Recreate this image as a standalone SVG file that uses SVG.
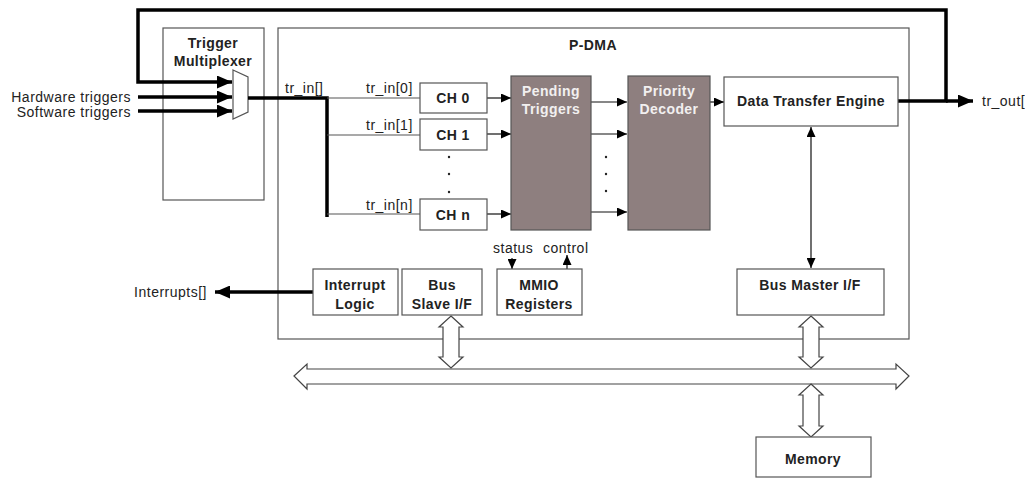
<svg xmlns="http://www.w3.org/2000/svg" width="1025" height="480" viewBox="0 0 1025 480">
<style>
.box{fill:#fff;stroke:#555;stroke-width:1.2}
.grey{fill:#8e7f7f;stroke:#555;stroke-width:1.2}
.t{font-family:"Liberation Sans",Arial,sans-serif;font-size:14px;letter-spacing:0.5px;fill:#222}
.b{font-family:"Liberation Sans",Arial,sans-serif;font-size:14px;font-weight:bold;letter-spacing:0.4px;fill:#222;text-anchor:middle}
.w{fill:#f2f0f0}
.thin{stroke:#555;stroke-width:1.2;fill:none}
.line{stroke:#111;stroke-width:1.2;fill:none}
.thick{stroke:#000;stroke-width:3.5;fill:none}
.dbl{fill:#fff;stroke:#444;stroke-width:1.2}
.dot{fill:#222}
</style>
<defs>
<marker id="a" markerUnits="userSpaceOnUse" markerWidth="10" markerHeight="9" refX="10" refY="4.5" orient="auto-start-reverse"><path d="M0,0 L10,4.5 L0,9 z" fill="#000"/></marker>
<marker id="A" markerUnits="userSpaceOnUse" markerWidth="15" markerHeight="13" refX="15" refY="6.5" orient="auto"><path d="M0,0 L15,6.5 L0,13 z" fill="#000"/></marker>
</defs>

<g id="pdma"><rect class="box" x="278" y="28" width="631" height="311"/><text class="b" x="593" y="50">P-DMA</text></g>
<g id="trigmux"><rect class="box" x="163" y="28" width="101" height="172"/><text class="b" x="213" y="48">Trigger</text><text class="b" x="213" y="66">Multiplexer</text><polygon class="box" points="233,70 248,77 248,112 233,119"/></g>

<g id="connectors">
<polyline class="thick" points="898,101 946,101 946,10 138,10 138,82 232,82" marker-end="url(#A)"/>
<line class="thick" x1="138" y1="97" x2="232" y2="97" marker-end="url(#A)"/>
<line class="thick" x1="138" y1="111" x2="232" y2="111" marker-end="url(#A)"/>
<line class="thick" x1="946" y1="101" x2="973" y2="101" marker-end="url(#A)"/>
<polyline class="thick" points="248,98 327,98 327,217"/>
<line class="thin" x1="327" y1="98" x2="420" y2="98"/>
<line class="thin" x1="327" y1="135" x2="420" y2="135"/>
<line class="thin" x1="327" y1="214" x2="420" y2="214"/>
<line class="line" x1="487" y1="98" x2="511" y2="98" marker-end="url(#a)"/>
<line class="line" x1="487" y1="134" x2="511" y2="134" marker-end="url(#a)"/>
<line class="line" x1="487" y1="214" x2="511" y2="214" marker-end="url(#a)"/>
<line class="line" x1="591" y1="102" x2="627" y2="102" marker-end="url(#a)"/>
<line class="line" x1="591" y1="134" x2="627" y2="134" marker-end="url(#a)"/>
<line class="line" x1="591" y1="212" x2="627" y2="212" marker-end="url(#a)"/>
<line class="line" x1="710" y1="102" x2="724" y2="102" marker-end="url(#a)"/>
<line class="line" x1="811" y1="127" x2="811" y2="268" marker-start="url(#a)" marker-end="url(#a)"/>
<line class="line" x1="512" y1="258" x2="512" y2="269" marker-end="url(#a)"/>
<line class="line" x1="567" y1="269" x2="567" y2="255" marker-end="url(#a)"/>
<line class="thick" x1="313" y1="292" x2="215" y2="292" marker-end="url(#A)"/>
<polygon class="dbl" points="294,376 307,364 307,369 896,369 896,364 909,376 896,389 896,384 307,384 307,389"/>
<polygon class="dbl" points="451,316 463,327 459,327 459,357 463,357 451,368 439,357 443,357 443,327 439,327"/>
<polygon class="dbl" points="811,316 823,327 819,327 819,357 823,357 811,368 799,357 803,357 803,327 799,327"/>
<polygon class="dbl" points="811,384 823,395 819,395 819,426 823,426 811,437 799,426 803,426 803,395 799,395"/>
</g>

<g id="labels">
<text class="t" x="131" y="102" text-anchor="end">Hardware triggers</text>
<text class="t" x="131" y="117" text-anchor="end">Software triggers</text>
<text class="t" x="285" y="93">tr_in[]</text>
<text class="t" x="366" y="93">tr_in[0]</text>
<text class="t" x="366" y="130">tr_in[1]</text>
<text class="t" x="366" y="210">tr_in[n]</text>
<text class="t" x="982" y="106">tr_out[</text>
<text class="t" x="207" y="297" text-anchor="end">Interrupts[]</text>
<text class="t" x="493" y="253">status</text>
<text class="t" x="543" y="253">control</text>
</g>

<g id="ch0"><rect class="box" x="420" y="83" width="67" height="30"/><text class="b" x="453" y="103">CH 0</text></g>
<g id="ch1"><rect class="box" x="420" y="119" width="67" height="31"/><text class="b" x="453" y="140">CH 1</text></g>
<g id="chdots"><circle class="dot" cx="449" cy="157" r="1.2"/><circle class="dot" cx="449" cy="174" r="1.2"/><circle class="dot" cx="449" cy="192" r="1.2"/></g>
<g id="chn"><rect class="box" x="420" y="199" width="67" height="31"/><text class="b" x="453" y="220">CH n</text></g>
<g id="pending"><rect class="grey" x="511" y="76" width="80" height="154"/><text class="b w" x="551" y="96">Pending</text><text class="b w" x="551" y="114">Triggers</text></g>
<g id="middots"><circle class="dot" cx="606" cy="157" r="1.2"/><circle class="dot" cx="606" cy="174" r="1.2"/><circle class="dot" cx="606" cy="191" r="1.2"/></g>
<g id="priority"><rect class="grey" x="628" y="76" width="82" height="154"/><text class="b w" x="669" y="96">Priority</text><text class="b w" x="669" y="114">Decoder</text></g>
<g id="dte"><rect class="box" x="724" y="77" width="174" height="49"/><text class="b" x="811" y="106">Data Transfer Engine</text></g>
<g id="interrupt"><rect class="box" x="313" y="269" width="85" height="46"/><text class="b" x="355" y="290">Interrupt</text><text class="b" x="355" y="309">Logic</text></g>
<g id="busslave"><rect class="box" x="402" y="269" width="80" height="46"/><text class="b" x="442" y="290">Bus</text><text class="b" x="442" y="309">Slave I/F</text></g>
<g id="mmio"><rect class="box" x="497" y="269" width="85" height="46"/><text class="b" x="539" y="290">MMIO</text><text class="b" x="539" y="309">Registers</text></g>
<g id="busmaster"><rect class="box" x="737" y="269" width="147" height="46"/><text class="b" x="810" y="290">Bus Master I/F</text></g>
<g id="memory"><rect class="box" x="756" y="437" width="115" height="40"/><text class="b" x="813" y="464">Memory</text></g>
</svg>
